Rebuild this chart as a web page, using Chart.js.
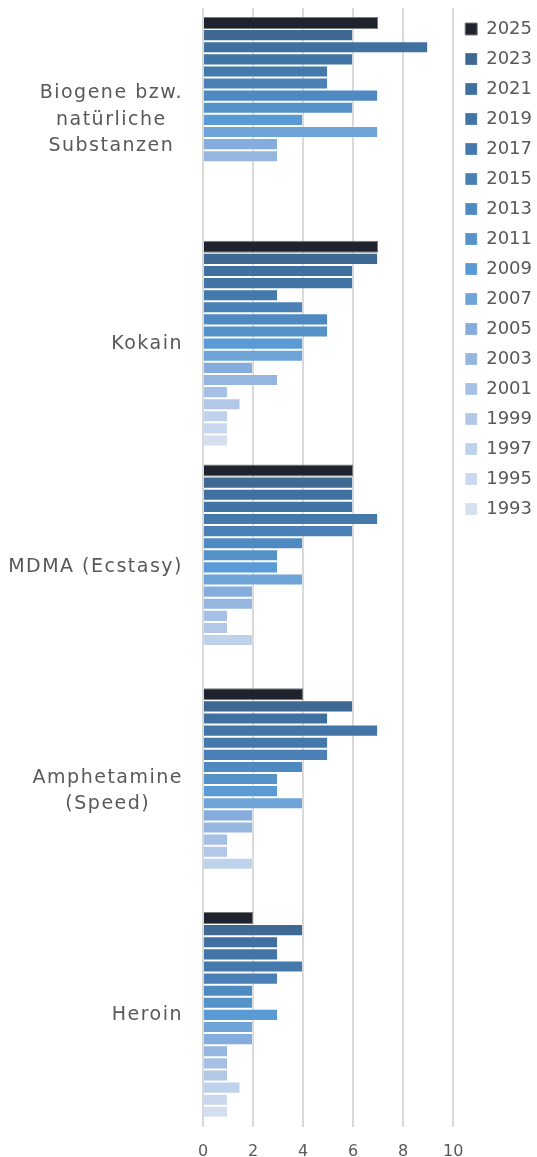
<!DOCTYPE html>
<html>
<head>
<meta charset="utf-8">
<script src="https://cdn.jsdelivr.net/npm/chart.js@4.4.1/dist/chart.umd.min.js"></script>
<style>
  html, body { margin: 0; padding: 0; background: #fff; }
  #wrap { width: 537px; height: 1157px; }
</style>
</head>
<body>
<div id="wrap"><canvas id="chart"></canvas></div>
<script>
const categories = [
  ['Biogene bzw.', 'natürliche', 'Substanzen'],
  'Kokain',
  'MDMA (Ecstasy)',
  ['Amphetamine', '(Speed)'],
  'Heroin'
];

const years = ['2025', '2023', '2021', '2019', '2017', '2015', '2013', '2011', '2009',
  '2007', '2005', '2003', '2001', '1999', '1997', '1995', '1993'];

// Biogene, Kokain, MDMA, Amphetamine, Heroin
const s2025 = [7, 7, 6, 4, 2];
const s2023 = [6, 7, 6, 6, 4];
const s2021 = [9, 6, 6, 5, 3];
const s2019 = [6, 6, 6, 7, 3];
const s2017 = [5, 3, 7, 5, 4];
const s2015 = [5, 4, 6, 5, 3];
const s2013 = [7, 5, 4, 4, 2];
const s2011 = [6, 5, 3, 3, 2];
const s2009 = [4, 4, 3, 3, 3];
const s2007 = [7, 4, 4, 4, 2];
const s2005 = [3, 2, 2, 2, 2];
const s2003 = [3, 3, 2, 2, 1];
const s2001 = [null, 1, 1, 1, 1];
const s1999 = [null, 1.5, 1, 1, 1];
const s1997 = [null, 1, 2, 2, 1.5];
const s1995 = [null, 1, null, null, 1];
const s1993 = [null, 1, null, null, 1];

const xTicks = [0, 2, 4, 6, 8, 10];

const series = [s2025, s2023, s2021, s2019, s2017, s2015, s2013, s2011, s2009,
  s2007, s2005, s2003, s2001, s1999, s1997, s1995, s1993];

const colors = ['#1f232d', '#3d6993', '#3f70a0', '#4374a6', '#4579ac', '#4a80b5', '#4f89c2',
  '#5492c8', '#5b9bd5', '#6ea4d8', '#84acdc', '#95b6df', '#a5c0e4', '#b2c8e6',
  '#bed2eb', '#c9d8ee', '#d4e0f0'];

const FONT = '"DejaVu Sans", sans-serif';
const TEXT = '#595959';

const datasets = years.map((y, i) => ({
  label: y,
  data: series[i],
  backgroundColor: colors[i],
  borderColor: i === 0 ? '#7a7a7a' : 'rgba(255,255,255,0.25)',
  borderWidth: 1,
  barPercentage: 1,
  categoryPercentage: 0.92
}));

// y labels: block right-aligned, lines centred within block (like the original)
const yLabelPlugin = {
  id: 'yLabels',
  afterDraw(chart) {
    const sc = chart.scales.y;
    const ctx = chart.ctx;
    ctx.save();
    ctx.font = '19px ' + FONT;
    ctx.letterSpacing = '1.5px';
    ctx.fillStyle = TEXT;
    ctx.textAlign = 'center';
    ctx.textBaseline = 'middle';
    const lh = 26.5;
    categories.forEach((c, i) => {
      const lines = Array.isArray(c) ? c : [c];
      const w = Math.max(...lines.map(l => ctx.measureText(l).width));
      const cx = sc.right - 20 - w / 2;
      const cy = sc.getPixelForTick(i);
      lines.forEach((l, j) => {
        ctx.fillText(l, cx, cy + (j - (lines.length - 1) / 2) * lh);
      });
    });
    ctx.restore();
  }
};

new Chart(document.getElementById('chart'), {
  type: 'bar',
  data: { labels: categories, datasets },
  plugins: [yLabelPlugin],
  options: {
    indexAxis: 'y',
    responsive: true,
    maintainAspectRatio: false,
    animation: false,
    layout: { padding: { top: 8, right: -5, left: 0, bottom: -19 } },
    scales: {
      x: {
        min: 0, max: 10,
        afterBuildTicks: (s) => { s.ticks = xTicks.map(v => ({ value: v })); },
        grid: { color: '#d9d9d9', lineWidth: 2, drawTicks: false },
        border: { display: false },
        ticks: { color: TEXT, font: { family: FONT, size: 16 }, padding: 15 }
      },
      y: {
        grid: { display: false },
        border: { display: false },
        ticks: { display: false },
        afterFit: (s) => { s.width = 203; }
      }
    },
    plugins: {
      tooltip: { enabled: false },
      legend: {
        position: 'right',
        align: 'start',
        labels: {
          color: TEXT,
          font: { family: FONT, size: 18 },
          boxWidth: 12,
          boxHeight: 12,
          padding: 12
        }
      }
    }
  }
});
</script>
</body>
</html>
